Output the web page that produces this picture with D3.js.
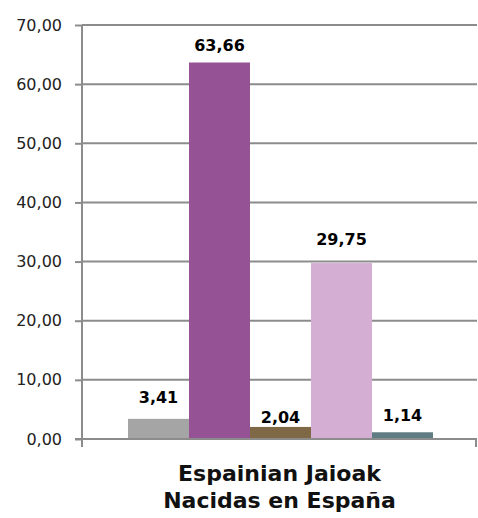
<!DOCTYPE html>
<html>
<head>
<meta charset="utf-8">
<script src="https://cdn.jsdelivr.net/npm/d3@7"></script>
<style>
  body { margin: 0; background: #fff; }
  text { font-family: "DejaVu Sans", sans-serif; }
</style>
</head>
<body>
<div id="graph"></div>
<script>
//Chart data
const categories = ["Espainian Jaioak", "Nacidas en España"];
const series = ["s1", "s2", "s3", "s4", "s5"];
const values = [3.41, 63.66, 2.04, 29.75, 1.14];
const valueLabels = ["3,41", "63,66", "2,04", "29,75", "1,14"];
const yTicks = [0, 10, 20, 30, 40, 50, 60, 70];
const colors = ["#a5a5a5", "#955395", "#7f6845", "#d5afd3", "#607d83"];

//Label gap above each bar (layout only)
const labelGap = [16, 11, 4, 18, 11];

//Display specifications
const W = 478, H = 518;
const margin = {top: 25, right: 1, bottom: 79, left: 82};
const width = W - margin.left - margin.right;
const height = H - margin.top - margin.bottom;

const fmt = d => d3.format(".2f")(d).replace(".", ",");

const svg = d3.select("#graph")
    .append("svg")
    .attr("width", W)
    .attr("height", H);

const g = svg.append("g")
    .attr("transform", "translate(" + margin.left + "," + margin.top + ")");

//Scales
const y = d3.scaleLinear()
    .domain([0, 70])
    .range([height, 0]);

const x = d3.scaleBand()
    .domain(series)
    .range([46, width - 44])
    .padding(0);

//Gridlines
g.append("g")
    .selectAll("line")
    .data(yTicks.filter(d => d > 0))
    .enter()
    .append("line")
    .attr("x1", 0)
    .attr("x2", width)
    .attr("y1", d => y(d))
    .attr("y2", d => y(d))
    .attr("stroke", "#8c8c8c")
    .attr("stroke-width", 2);

//Bars
g.append("g")
    .selectAll("rect")
    .data(values)
    .enter()
    .append("rect")
    .attr("x", (d, i) => x(series[i]))
    .attr("y", d => y(d))
    .attr("width", x.bandwidth())
    .attr("height", d => height - y(d))
    .attr("fill", (d, i) => colors[i]);

//Value labels
g.append("g")
    .selectAll("text")
    .data(values)
    .enter()
    .append("text")
    .attr("x", (d, i) => x(series[i]) + x.bandwidth() / 2)
    .attr("y", (d, i) => y(d) - labelGap[i])
    .attr("text-anchor", "middle")
    .style("font-weight", "bold")
    .style("font-size", "16px")
    .style("fill", "#000")
    .text((d, i) => valueLabels[i]);

//Y axis
const yAxis = g.append("g")
    .call(d3.axisLeft(y).tickValues(yTicks).tickFormat(fmt).tickSize(7).tickPadding(13));
yAxis.select(".domain").remove();
yAxis.selectAll(".tick line").attr("stroke", "#8c8c8c").attr("stroke-width", 2);
yAxis.selectAll(".tick text")
    .style("font-size", "16px")
    .style("font-family", "'DejaVu Sans', sans-serif")
    .attr("fill", "#222");

g.append("line")
    .attr("x1", 0).attr("x2", 0)
    .attr("y1", 0).attr("y2", height + 8)
    .attr("stroke", "#8c8c8c")
    .attr("stroke-width", 2);

//X axis baseline and end ticks
g.append("line")
    .attr("x1", -7).attr("x2", width)
    .attr("y1", height).attr("y2", height)
    .attr("stroke", "#8c8c8c")
    .attr("stroke-width", 2);

g.append("line")
    .attr("x1", width - 1).attr("x2", width - 1)
    .attr("y1", height).attr("y2", height + 8)
    .attr("stroke", "#8c8c8c")
    .attr("stroke-width", 2);

//Category label
g.append("text")
    .attr("x", width / 2)
    .attr("y", height + 42)
    .attr("text-anchor", "middle")
    .style("font-weight", "bold")
    .style("font-size", "22px")
    .style("fill", "#111")
    .selectAll("tspan")
    .data(categories)
    .enter()
    .append("tspan")
    .attr("x", width / 2)
    .attr("dy", (d, i) => i === 0 ? 0 : 27)
    .text(d => d);
</script>
</body>
</html>
